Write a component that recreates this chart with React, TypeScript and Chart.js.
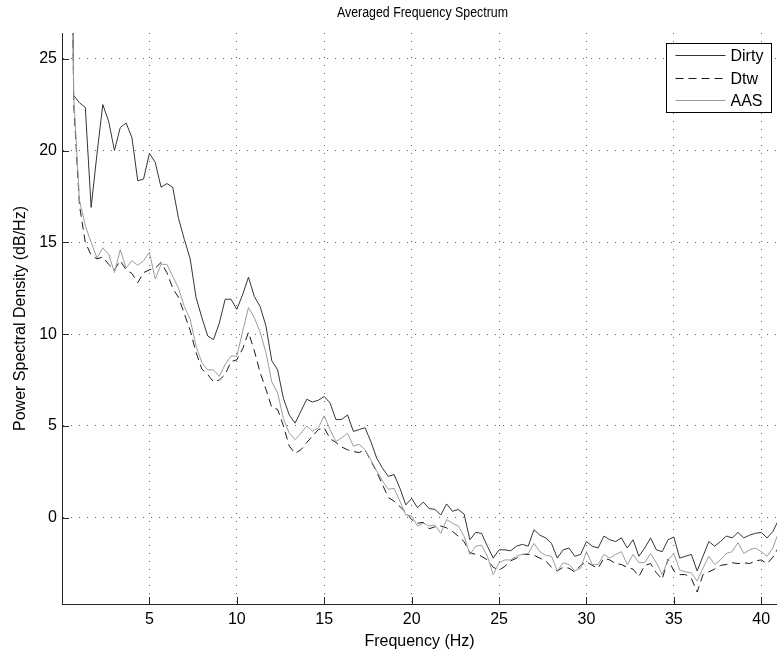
import React, { useEffect, useRef } from 'react';
import { Chart, registerables } from 'chart.js';

Chart.register(...registerables);

const FONT = '"Liberation Sans", Arial, Helvetica, sans-serif';

const TITLE = 'Averaged Frequency Spectrum';
const X_LABEL = 'Frequency (Hz)';
const Y_LABEL = 'Power Spectral Density (dB/Hz)';
const SERIES_NAMES = ['Dirty', 'Dtw', 'AAS'];

const X_TICKS = [5, 10, 15, 20, 25, 30, 35, 40];
const Y_TICKS = [0, 5, 10, 15, 20, 25];
const X_MIN = 0;
const X_MAX = 40.9;
const Y_MIN = -4.7;
const Y_MAX = 26.4;

// frequency bins: 1/3 Hz spacing, first bin at 1/3 Hz
const FREQ_STEP = 1 / 3;

const DIRTY = [
  60, 23.0, 22.6, 22.35, 16.9, 19.8, 22.5, 21.6, 20.0, 21.25,
  21.5, 20.7, 18.35, 18.45, 19.85, 19.35, 18.0, 18.2, 18.0, 16.3,
  15.15, 14.1, 12.0, 10.9, 9.9, 9.7, 10.6, 11.9, 11.9, 11.35,
  12.15, 13.1, 12.05, 11.5, 10.45, 8.55, 8.05, 6.5, 5.6, 5.15,
  5.8, 6.45, 6.3, 6.4, 6.6, 6.25, 5.35, 5.35, 5.6, 4.7,
  4.8, 4.9, 4.15, 3.25, 2.7, 2.25, 2.35, 1.6, 0.7, 1.05,
  0.55, 0.85, 0.5, 0.45, 0.15, 0.75, 0.35, 0.45, 0.2, -1.2,
  -0.8, -0.85, -1.55, -2.2, -1.75, -1.75, -1.8, -1.55, -1.45, -1.55,
  -0.65, -0.95, -1.1, -1.4, -2.2, -1.75, -1.65, -2.1, -2.0, -1.3,
  -1.55, -1.65, -1.0, -1.2, -1.3, -1.1, -1.65, -1.2, -2.1, -1.65,
  -1.1, -1.75, -1.85, -1.2, -1.05, -2.2, -2.1, -2.0, -2.9, -2.1,
  -1.3, -1.55, -1.3, -1.0, -1.1, -0.8, -1.1, -0.95, -0.85, -0.8,
  -1.1, -0.75, -0.1,
];

const DTW = [
  60, 22.6, 17.0, 15.0, 14.3, 14.1, 14.2, 13.8, 13.5, 14.0,
  13.5, 13.3, 12.8, 13.35, 13.5, 13.6, 13.9, 13.35, 12.5, 12.0,
  11.1, 10.2, 9.0, 8.1, 7.8, 7.4, 7.5, 7.8, 8.5, 8.6,
  9.2, 10.1, 9.1, 7.9, 7.0, 6.0, 5.9, 5.0, 3.9, 3.5,
  3.7, 4.1, 4.45, 4.8, 4.9, 4.3, 4.1, 3.85, 3.7, 3.6,
  3.55, 3.7, 3.1, 2.5, 1.8, 1.1, 0.9, 0.6, 0.3, -0.1,
  -0.3, -0.25, -0.6, -0.5, -0.45, -0.55, -0.75, -1.0, -1.3, -1.9,
  -2.0, -2.1, -2.3, -2.7, -2.85, -2.65, -2.35, -2.2, -2.0, -2.0,
  -2.05, -2.2, -2.35, -2.7, -2.9, -2.7, -2.75, -2.95, -2.6, -2.4,
  -2.6, -2.75, -2.2, -2.3, -2.5, -2.55, -2.7, -2.8, -3.2, -2.6,
  -2.5, -3.0, -3.35, -2.25, -2.9, -3.1, -3.1, -3.3, -4.05, -3.1,
  -2.95, -2.8, -2.6, -2.55, -2.45, -2.5, -2.45, -2.5, -2.35, -2.3,
  -2.5, -2.15, -1.6,
];

const AAS = [
  60, 23.0, 17.3, 15.9, 15.0, 14.15, 14.7, 14.35, 13.35, 14.6,
  13.6, 14.0, 13.75, 14.0, 14.45, 13.0, 13.8, 13.8, 13.15, 12.5,
  11.5, 10.8, 9.35, 8.45, 8.05, 8.05, 7.7, 8.35, 8.8, 8.8,
  10.15, 11.45, 10.9, 10.1, 9.0, 7.4, 6.8, 5.4, 4.6, 4.25,
  4.6, 5.0, 4.7, 4.9, 5.55, 4.8, 4.15, 4.35, 4.6, 3.9,
  4.0, 3.7, 3.15, 2.55, 2.0, 1.55, 1.6, 0.9, 0.15, 0.1,
  -0.45, -0.3, -0.45, -0.4, -0.85, -0.1, -0.3, -0.45, -1.0, -2.0,
  -1.55, -1.5, -2.1, -3.1, -2.45, -2.3, -2.3, -2.1, -2.0, -1.95,
  -1.4, -1.85, -2.05, -2.1, -2.9, -2.45, -2.55, -2.9, -2.75, -1.85,
  -2.55, -2.55, -2.0, -2.2, -2.0, -1.85, -2.55, -2.0, -2.45, -2.45,
  -1.95, -2.45, -3.1, -2.3, -1.95, -2.85, -2.95, -3.0, -3.45, -2.75,
  -2.1, -2.55, -2.3, -1.95, -1.85, -1.35, -1.95, -1.75, -1.65, -1.85,
  -2.1, -1.65, -0.75,
];

const SERIES = [DIRTY, DTW, AAS];
const COLORS = ['#353535', '#1a1a1a', '#9c9c9c'];
const DASHES = [[], [8, 5], []];
const ORDERS = [2, 1, 0];

const AXIS_COLOR = '#262626';
const GRID_COLOR = 'rgba(0,0,0,0.6)';

const overlayPlugin = {
  id: 'matlabOverlay',
  afterDatasetsDraw(chart: any) {
    const { ctx, chartArea } = chart;
    const { left, right, top, bottom } = chartArea;
    const xs = chart.scales.x;
    const ys = chart.scales.y;
    ctx.save();
    // inward tick marks
    ctx.strokeStyle = AXIS_COLOR;
    ctx.lineWidth = 1;
    ctx.setLineDash([]);
    ctx.beginPath();
    Y_TICKS.forEach((v) => {
      const py = Math.round(ys.getPixelForValue(v)) + 0.5;
      ctx.moveTo(left, py);
      ctx.lineTo(left + 7, py);
    });
    X_TICKS.forEach((v) => {
      const px = Math.round(xs.getPixelForValue(v)) + 0.5;
      ctx.moveTo(px, bottom);
      ctx.lineTo(px, bottom - 7);
    });
    ctx.stroke();

    // legend box
    const boxW = 105;
    const boxH = 69;
    const x0 = Math.round(right - 6 - boxW) + 0.5;
    const y0 = Math.round(top + 10) + 0.5;
    ctx.fillStyle = '#ffffff';
    ctx.fillRect(x0, y0, boxW, boxH);
    ctx.strokeStyle = '#000000';
    ctx.strokeRect(x0, y0, boxW, boxH);
    ctx.font = `16px ${FONT}`;
    ctx.textBaseline = 'middle';
    ctx.textAlign = 'left';
    SERIES_NAMES.forEach((name, i) => {
      const ry = Math.round(y0 + 11.5 + i * 22.5) + 0.5;
      ctx.strokeStyle = COLORS[i];
      ctx.setLineDash(DASHES[i]);
      ctx.beginPath();
      ctx.moveTo(x0 + 9, ry);
      ctx.lineTo(x0 + 59, ry);
      ctx.stroke();
      ctx.setLineDash([]);
      ctx.fillStyle = '#000000';
      ctx.fillText(name, x0 + 64, ry + 1);
    });

    // title
    ctx.font = `14px ${FONT}`;
    ctx.textAlign = 'center';
    ctx.fillStyle = '#000000';
    ctx.fillText(TITLE, (left + right) / 2 + 3, 13, 171);
    ctx.restore();
  },
};

export default function App() {
  const canvasRef = useRef<HTMLCanvasElement | null>(null);

  useEffect(() => {
    const canvas = canvasRef.current;
    if (!canvas) return;
    const datasets = SERIES.map((vals, i) => ({
      label: SERIES_NAMES[i],
      data: vals.map((v, k) => ({ x: (k + 1) * FREQ_STEP, y: v })),
      borderColor: COLORS[i],
      backgroundColor: COLORS[i],
      borderWidth: 1,
      borderDash: DASHES[i],
      pointRadius: 0,
      pointHoverRadius: 0,
      fill: false,
      tension: 0,
      order: ORDERS[i],
    }));

    const chart = new Chart(canvas, {
      type: 'line',
      data: { datasets },
      plugins: [overlayPlugin],
      options: {
        animation: false,
        responsive: false,
        devicePixelRatio: 1,
        events: [],
        layout: { padding: { top: 33, left: 0, right: 0, bottom: 0 }, autoPadding: false },
        plugins: {
          legend: { display: false },
          title: { display: false },
          tooltip: { enabled: false },
        },
        scales: {
          x: {
            type: 'linear',
            min: X_MIN,
            max: X_MAX,
            afterBuildTicks: (s: any) => {
              s.ticks = X_TICKS.map((v) => ({ value: v }));
            },
            afterFit: (s: any) => {
              s.height = 51;
            },
            grid: { color: GRID_COLOR, lineWidth: 1, drawTicks: false },
            border: { display: true, color: AXIS_COLOR, width: 1, dash: [1, 7] },
            ticks: {
              color: '#000',
              font: { family: FONT, size: 16 },
              padding: 6,
              maxRotation: 0,
              autoSkip: false,
              callback: (v: any) => String(v),
            },
            title: {
              display: true,
              text: X_LABEL,
              color: '#000',
              font: { family: FONT, size: 16 },
              padding: { top: 0, bottom: 4 },
            },
          },
          y: {
            type: 'linear',
            min: Y_MIN,
            max: Y_MAX,
            afterBuildTicks: (s: any) => {
              s.ticks = Y_TICKS.map((v) => ({ value: v }));
            },
            afterFit: (s: any) => {
              s.width = 62;
            },
            grid: { color: GRID_COLOR, lineWidth: 1, drawTicks: false },
            border: { display: true, color: AXIS_COLOR, width: 1, dash: [1, 7] },
            ticks: {
              color: '#000',
              font: { family: FONT, size: 16 },
              padding: 5,
              autoSkip: false,
              callback: (v: any) => String(v),
            },
            title: {
              display: true,
              text: Y_LABEL,
              color: '#000',
              font: { family: FONT, size: 16 },
              padding: { top: 11, bottom: 0 },
            },
          },
        },
      },
    } as any);

    return () => {
      chart.destroy();
    };
  }, []);

  return (
    <div style={{ position: 'absolute', left: 0, top: 0, width: 777, height: 655, background: '#fff' }}>
      <canvas ref={canvasRef} width={777} height={655} style={{ display: 'block', width: 777, height: 655 }} />
    </div>
  );
}
